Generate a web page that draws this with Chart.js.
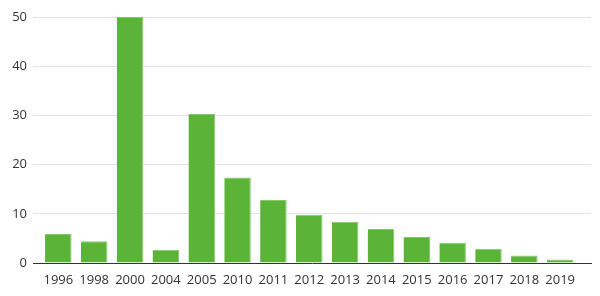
<!DOCTYPE html>
<html>
<head>
<meta charset="utf-8">
<script src="https://cdn.jsdelivr.net/npm/chart.js@4/dist/chart.umd.min.js"></script>
<style>
html,body{margin:0;padding:0;background:#fff;}
#c{display:block;}
</style>
</head>
<body>
<canvas id="c" width="600" height="296"></canvas>
<script>
const categories = ["1996","1998","2000","2004","2005","2010","2011","2012","2013","2014","2015","2016","2017","2018","2019"];
const values = [5.9, 4.4, 50, 2.7, 30.3, 17.4, 12.8, 9.8, 8.4, 6.9, 5.3, 4.1, 2.9, 1.5, 0.7];
const yTicks = [0, 10, 20, 30, 40, 50];

const points = values.map((v, i) => ({x: i, y: v}));

new Chart(document.getElementById('c'), {
  type: 'bar',
  data: {
    datasets: [{
      data: points,
      backgroundColor: '#5bb338',
      borderColor: '#82c866',
      borderWidth: {top: 1, right: 1, left: 0, bottom: 0},
      borderSkipped: 'bottom',
      categoryPercentage: 1,
      barPercentage: 0.74
    }]
  },
  options: {
    responsive: false,
    animation: false,
    devicePixelRatio: 1,
    layout: {padding: {top: 17, right: 9, left: 0, bottom: 0}},
    plugins: {legend: {display: false}, tooltip: {enabled: false}},
    scales: {
      x: {
        type: 'linear',
        offset: false,
        min: -0.706,
        max: 14.86,
        grid: {display: false, offset: false, drawTicks: false},
        border: {display: true, color: '#333333', width: 1},
        afterBuildTicks: s => { s.ticks = categories.map((_, i) => ({value: i})); },
        afterFit: s => { s.height = 33; },
        ticks: {
          autoSkip: false,
          maxRotation: 0,
          padding: 9,
          color: '#333333',
          font: {family: 'Open Sans', size: 13},
          callback: v => categories[v]
        }
      },
      y: {
        min: 0,
        max: 50,
        afterBuildTicks: s => { s.ticks = yTicks.map(v => ({value: v})); },
        afterFit: s => { s.width = 33; },
        grid: {color: '#dfe3e8', lineWidth: 1, drawTicks: false},
        border: {display: false},
        ticks: {
          padding: 6,
          color: '#333333',
          font: {family: 'Open Sans', size: 13}
        }
      }
    }
  }
});
</script>
</body>
</html>
